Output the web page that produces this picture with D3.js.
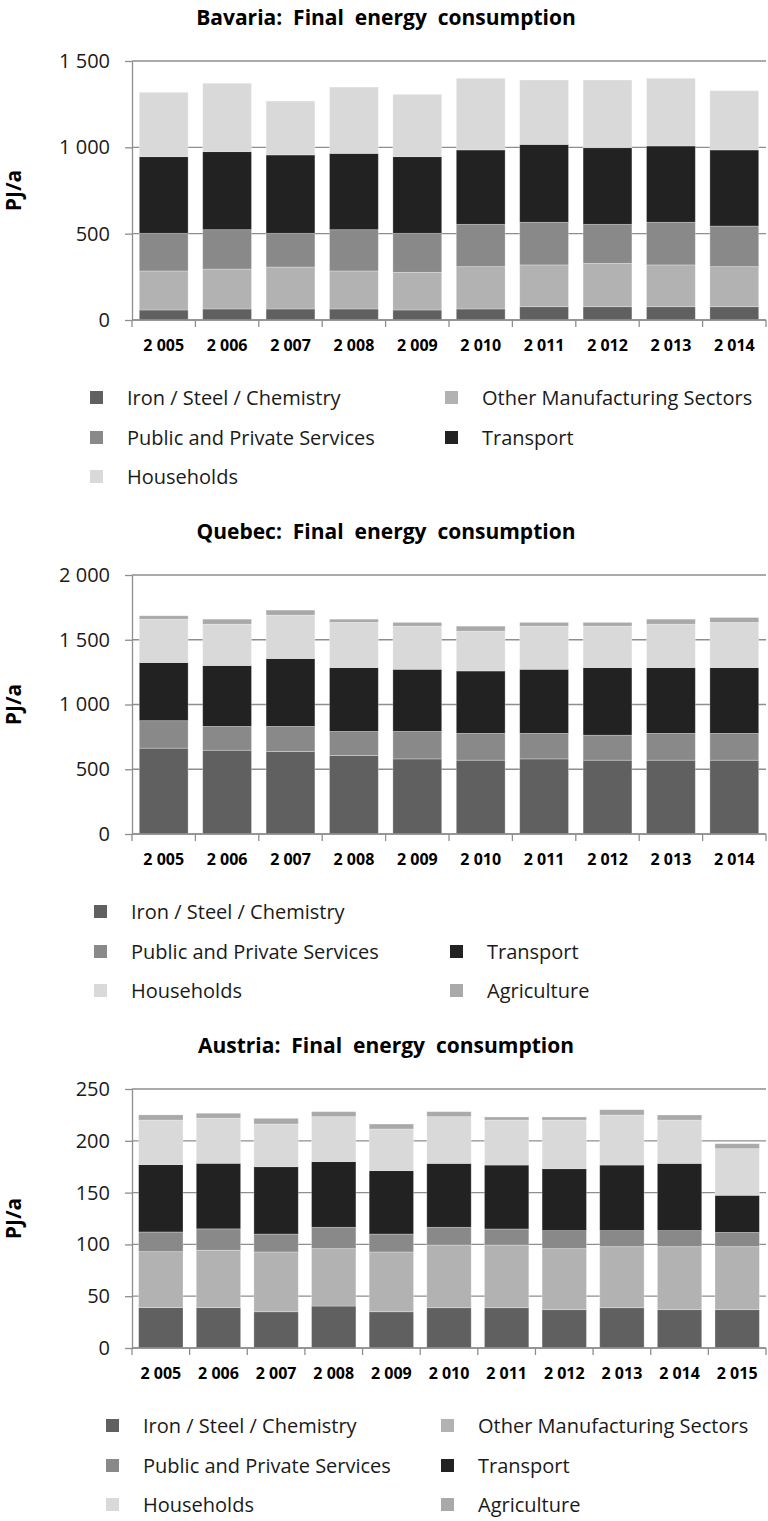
<!DOCTYPE html>
<html>
<head>
<meta charset="utf-8">
<script src="https://cdn.jsdelivr.net/npm/d3@7/dist/d3.min.js"></script>
<style>
  body { margin: 0; background: #fff; }
  svg { display: block; font-family: "Open Sans", "Noto Sans", sans-serif; }
</style>
</head>
<body>
<script>
// categories
const years10 = [2005, 2006, 2007, 2008, 2009, 2010, 2011, 2012, 2013, 2014];
const years11 = [2005, 2006, 2007, 2008, 2009, 2010, 2011, 2012, 2013, 2014, 2015];

const IRON = 'Iron / Steel / Chemistry',
      OTHER = 'Other Manufacturing Sectors',
      PUBLIC = 'Public and Private Services',
      TRANSPORT = 'Transport',
      HOUSE = 'Households',
      AGRI = 'Agriculture';

const colors = {};
colors[IRON] = '#606060';
colors[OTHER] = '#b2b2b2';
colors[PUBLIC] = '#898989';
colors[TRANSPORT] = '#222222';
colors[HOUSE] = '#d9d9d9';
colors[AGRI] = '#a9a9a9';

// Bavaria, PJ/a
const bavIron       = [58, 64, 64, 64, 58, 64, 77, 77, 77, 77];
const bavOther      = [226, 231, 243, 220, 218, 245, 242, 251, 242, 232];
const bavPublic     = [218, 228, 195, 239, 226, 245, 247, 226, 247, 235];
const bavTransport  = [444, 452, 454, 442, 444, 431, 451, 444, 442, 441];
const bavHouseholds = [373, 396, 312, 384, 361, 415, 373, 392, 392, 343];

// Quebec, PJ/a
const queIron        = [663, 647, 637, 606, 580, 570, 580, 570, 570, 570];
const quePublic      = [212, 184, 194, 186, 212, 207, 197, 193, 207, 207];
const queTransport   = [449, 470, 524, 493, 480, 482, 495, 522, 508, 508];
const queHouseholds  = [335, 319, 335, 349, 333, 307, 333, 320, 335, 349];
const queAgriculture = [26, 39, 39, 25, 29, 39, 29, 29, 39, 38];

// Austria, PJ/a
const autIron        = [39, 39, 35, 40.5, 35, 38.9, 38.9, 37, 38.9, 37, 37];
const autOther       = [54, 55.4, 57.7, 55.4, 57.7, 60.5, 60.5, 58.9, 58.9, 60.8, 60.8];
const autPublic      = [19, 20.6, 17.3, 20.6, 17.3, 17.1, 15.5, 17.4, 15.5, 15.5, 13.8];
const autTransport   = [65, 63.3, 65, 63.4, 61.2, 61.7, 61.7, 59.8, 63.3, 64.9, 35.8];
const autHouseholds  = [43, 43.5, 41.2, 43.4, 40.2, 45.1, 43.4, 46.9, 48.3, 41.8, 45];
const autAgriculture = [5, 4.8, 5.5, 4.8, 4.8, 4.8, 3, 3, 5.1, 4.9, 4.8];

// y ticks
const bavTicks = [0, 500, 1000, 1500];
const queTicks = [0, 500, 1000, 1500, 2000];
const autTicks = [0, 50, 100, 150, 200, 250];

const panels = [
  {
    title: 'Bavaria:  Final  energy  consumption', top: 0, years: years10, ticks: bavTicks,
    series: [[IRON, bavIron], [OTHER, bavOther], [PUBLIC, bavPublic], [TRANSPORT, bavTransport], [HOUSE, bavHouseholds]],
    legend: {x1: 90, x2: 445, slots: [[IRON, 0, 0], [OTHER, 1, 0], [PUBLIC, 0, 1], [TRANSPORT, 1, 1], [HOUSE, 0, 2]]}
  },
  {
    title: 'Quebec:  Final  energy  consumption', top: 514, years: years10, ticks: queTicks,
    series: [[IRON, queIron], [PUBLIC, quePublic], [TRANSPORT, queTransport], [HOUSE, queHouseholds], [AGRI, queAgriculture]],
    legend: {x1: 94, x2: 450, slots: [[IRON, 0, 0], [PUBLIC, 0, 1], [TRANSPORT, 1, 1], [HOUSE, 0, 2], [AGRI, 1, 2]]}
  },
  {
    title: 'Austria:  Final  energy  consumption', top: 1028, years: years11, ticks: autTicks,
    series: [[IRON, autIron], [OTHER, autOther], [PUBLIC, autPublic], [TRANSPORT, autTransport], [HOUSE, autHouseholds], [AGRI, autAgriculture]],
    legend: {x1: 106, x2: 441, slots: [[IRON, 0, 0], [OTHER, 1, 0], [PUBLIC, 0, 1], [TRANSPORT, 1, 1], [HOUSE, 0, 2], [AGRI, 1, 2]]}
  }
];

const fmt = d3.formatLocale({decimal: ',', thousands: ' ', grouping: [3], currency: ['', '']}).format(',');

const svg = d3.select('body').append('svg')
  .attr('width', 768)
  .attr('height', 1521);

const plotLeft = 132, plotRight = 766, plotTop = 61, plotBottom = 320;
const gridColor = '#8e8e8e';

panels.forEach((p) => {
  const g = svg.append('g').attr('transform', 'translate(0,' + p.top + ')');

  const keys = p.series.map(s => s[0]);
  const rows = p.years.map((yr, j) => {
    const row = {year: yr};
    p.series.forEach(s => { row[s[0]] = s[1][j]; });
    return row;
  });

  const x = d3.scaleBand()
    .domain(p.years)
    .range([plotLeft, plotRight])
    .paddingInner(0.23)
    .paddingOuter(0.115);

  const y = d3.scaleLinear()
    .domain([0, d3.max(p.ticks)])
    .range([plotBottom, plotTop]);

  // title
  g.append('text')
    .attr('x', 386)
    .attr('y', 25)
    .attr('text-anchor', 'middle')
    .style('font-size', '21px')
    .style('font-weight', 'bold')
    .style('white-space', 'pre')
    .attr('fill', '#000')
    .text(p.title);

  // y title
  g.append('text')
    .attr('transform', 'translate(21,' + ((plotTop + plotBottom) / 2) + ') rotate(-90)')
    .attr('text-anchor', 'middle')
    .style('font-size', '21px')
    .style('font-weight', 'bold')
    .attr('fill', '#000')
    .text('PJ/a');

  // gridlines
  g.append('g')
    .selectAll('line')
    .data(p.ticks)
    .enter().append('line')
    .attr('x1', plotLeft)
    .attr('x2', plotRight)
    .attr('y1', d => y(d))
    .attr('y2', d => y(d))
    .attr('stroke', gridColor)
    .attr('stroke-width', 1.3);

  // y axis
  const yAxis = g.append('g')
    .attr('transform', 'translate(' + plotLeft + ',0)')
    .call(d3.axisLeft(y).tickValues(p.ticks).tickSize(7).tickSizeOuter(0).tickPadding(15).tickFormat(fmt));
  yAxis.select('.domain').attr('stroke', gridColor).attr('stroke-width', 1.3);
  yAxis.selectAll('.tick line').attr('stroke', gridColor).attr('stroke-width', 1.3);
  yAxis.selectAll('.tick text')
    .style('font-size', '20px')
    .style('font-family', '"Open Sans", sans-serif')
    .attr('fill', '#1a1a1a');

  // bars
  const stacked = d3.stack().keys(keys)(rows);
  g.append('g')
    .selectAll('g')
    .data(stacked)
    .enter().append('g')
    .attr('fill', d => colors[d.key])
    .selectAll('rect')
    .data(d => d)
    .enter().append('rect')
    .attr('x', d => x(d.data.year))
    .attr('width', x.bandwidth())
    .attr('y', d => y(d[1]))
    .attr('height', d => y(d[0]) - y(d[1]))
    .attr('stroke', 'rgba(255,255,255,0.35)')
    .attr('stroke-width', 0.8);

  // x axis line + category separators
  g.append('line')
    .attr('x1', plotLeft).attr('x2', plotRight)
    .attr('y1', plotBottom).attr('y2', plotBottom)
    .attr('stroke', gridColor).attr('stroke-width', 1.3);

  const bounds = p.years.map(yr => x(yr) - x.paddingOuter() * x.step());
  bounds.push(plotRight);
  g.append('g')
    .selectAll('line')
    .data(bounds)
    .enter().append('line')
    .attr('x1', d => d).attr('x2', d => d)
    .attr('y1', plotBottom).attr('y2', plotBottom + 7)
    .attr('stroke', gridColor).attr('stroke-width', 1.3);

  const xAxis = g.append('g')
    .attr('transform', 'translate(0,' + plotBottom + ')')
    .call(d3.axisBottom(x).tickSize(0).tickPadding(20).tickFormat(fmt));
  xAxis.select('.domain').remove();
  xAxis.selectAll('.tick text')
    .style('font-size', '16px')
    .style('font-weight', 'bold')
    .style('font-family', '"Open Sans", sans-serif')
    .attr('fill', '#000');

  // legend
  const rowY = [plotBottom + 78, plotBottom + 118, plotBottom + 157];
  const items = g.append('g')
    .selectAll('g')
    .data(p.legend.slots)
    .enter().append('g')
    .attr('transform', d => 'translate(' + (d[1] === 0 ? p.legend.x1 : p.legend.x2) + ',' + rowY[d[2]] + ')');

  items.append('rect')
    .attr('x', 0)
    .attr('y', -7)
    .attr('width', 13)
    .attr('height', 13)
    .attr('fill', d => colors[d[0]]);

  items.append('text')
    .attr('x', 37)
    .attr('y', 7)
    .style('font-size', '20px')
    .attr('fill', '#1a1a1a')
    .text(d => d[0]);
});
</script>
</body>
</html>
